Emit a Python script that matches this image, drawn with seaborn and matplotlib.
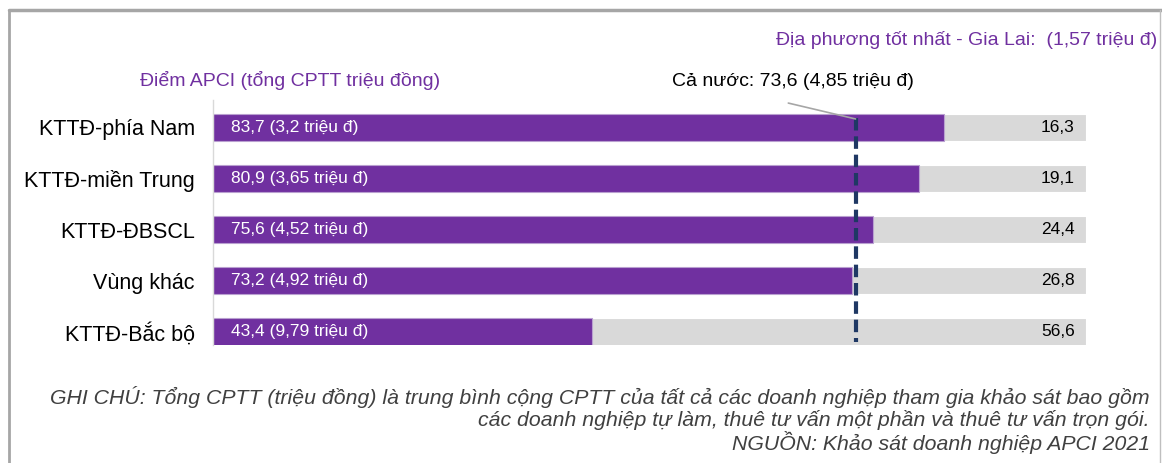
import matplotlib
matplotlib.use("Agg")
import matplotlib.pyplot as plt
import seaborn as sns
import pandas as pd
from matplotlib.lines import Line2D

# ======================================================
# DATOS
# ======================================================

vung = ["KTTĐ-phía Nam", "KTTĐ-miền Trung", "KTTĐ-ĐBSCL", "Vùng khác", "KTTĐ-Bắc bộ"]
diem = [83.7, 80.9, 75.6, 73.2, 43.4]
cptt = ["3,2", "3,65", "4,52", "4,92", "9,79"]
con_lai = [16.3, 19.1, 24.4, 26.8, 56.6]
tong = [100, 100, 100, 100, 100]
ca_nuoc = 73.6

df = pd.DataFrame({"vung": vung, "diem": diem, "tong": tong, "con_lai": con_lai})

TIM = "#7030A0"
XAM = "#D9D9D9"

# ======================================================
# FIGURA
# ======================================================

sns.set_style("white")
plt.rcParams["font.family"] = ["Liberation Sans", "DejaVu Sans"]

fig = plt.figure(figsize=(11.62, 4.63), dpi=100)
ax = fig.add_axes([213 / 1162, 1 - 345 / 463, 873 / 1162, 245 / 463])

sns.barplot(data=df, x="tong", y="vung", color=XAM, width=0.53,
            saturation=1, ax=ax, edgecolor="white", linewidth=0.8)
sns.barplot(data=df, x="diem", y="vung", color=TIM, width=0.53,
            saturation=1, ax=ax, edgecolor="#B9A0D0", linewidth=0.8)

ax.set_xlim(0, 100)
ax.set_ylim(4.255, -0.53)
ax.set_xlabel("")
ax.set_ylabel("")
ax.set_xticks([])
ax.tick_params(axis="y", length=0, pad=13, labelsize=15.5, labelcolor="black")
for s in ["top", "right", "bottom"]:
    ax.spines[s].set_visible(False)
ax.spines["left"].set_color("#D9D9D9")
ax.spines["left"].set_linewidth(1)

# nhan trong thanh
for i in range(len(vung)):
    ax.text(2.1, i, f"{str(diem[i]).replace('.', ',')} ({cptt[i]} triệu đ)",
            color="white", fontsize=12.5, va="center", ha="left")
    ax.text(98.7, i, str(con_lai[i]).replace(".", ","),
            color="black", fontsize=12.5, va="center", ha="right")

# duong ca nuoc
ax.plot([ca_nuoc, ca_nuoc], [-0.17, 4.2], color="#1F3864", lw=3,
        linestyle=(0, (3, 1.4)), solid_capstyle="butt", zorder=5)
ax.plot([ca_nuoc - 7.7, ca_nuoc], [-0.47, -0.16], color="#A6A6A6", lw=1.2,
        clip_on=False, zorder=5)

# ======================================================
# TEXTOS
# ======================================================

fig.text(672 / 1162, 1 - 82 / 463, "Cả nước: 73,6 (4,85 triệu đ)",
         fontsize=14, color="black", va="center", ha="left")
fig.text(140 / 1162, 1 - 80 / 463, "Điểm APCI (tổng CPTT triệu đồng)",
         fontsize=14, color=TIM, va="center", ha="left")
fig.text(1157 / 1162, 1 - 40 / 463, "Địa phương tốt nhất - Gia Lai:  (1,57 triệu đ)",
         fontsize=14, color=TIM, va="center", ha="right")

nota = ["GHI CHÚ: Tổng CPTT (triệu đồng) là trung bình cộng CPTT của tất cả các doanh nghiệp tham gia khảo sát bao gồm",
        "các doanh nghiệp tự làm, thuê tư vấn một phần và thuê tư vấn trọn gói.",
        "NGUỒN: Khảo sát doanh nghiệp APCI 2021"]
for k, linea in enumerate(nota):
    fig.text(1150 / 1162, 1 - (397 + 23 * k) / 463, linea, fontsize=15.3,
             style="italic", color="#404040", va="center", ha="right")

# marco
fig.add_artist(Line2D([8.5 / 1162, 1], [1 - 10 / 463, 1 - 10 / 463],
                      color="#A6A6A6", lw=2.5, transform=fig.transFigure))
fig.add_artist(Line2D([8.5 / 1162, 8.5 / 1162], [1 - 10 / 463, 0],
                      color="#A6A6A6", lw=2, transform=fig.transFigure))
fig.add_artist(Line2D([1159.5 / 1162, 1159.5 / 1162], [1 - 10 / 463, 0],
                      color="#BFBFBF", lw=1, transform=fig.transFigure))

plt.savefig("out.png", dpi=100)
plt.close()
print("ok")
